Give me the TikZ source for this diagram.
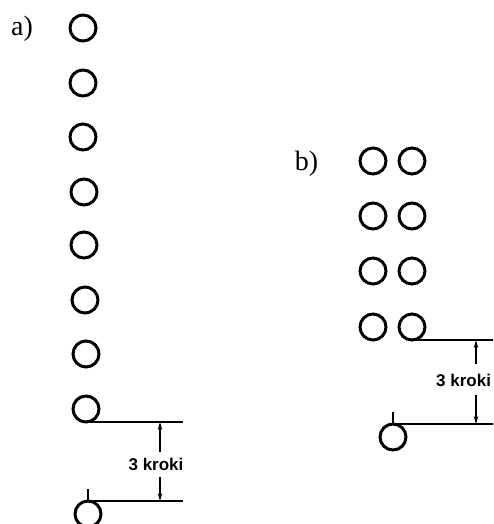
\documentclass[tikz,border=0pt]{standalone}
\usepackage{fontspec}
\setmainfont{Liberation Serif}
\newfontfamily\dimfont{Liberation Sans}
\usetikzlibrary{arrows.meta}
\begin{document}
\begin{tikzpicture}[x=1pt,y=-1pt,
  hole/.style={circle,draw,line width=3pt,minimum size=26pt,inner sep=0pt,outer sep=0pt},
  lbl/.style={font=\fontsize{28}{30}\selectfont,inner sep=0pt},
  dimtext/.style={font=\dimfont\bfseries\fontsize{17}{19}\selectfont,inner sep=0pt},
  refline/.style={line width=1.2pt},
  dimarrow/.style={line width=1.2pt,-{Stealth[length=8pt,width=4.5pt]}}]
\useasboundingbox (0,0) rectangle (493,524);
\clip (0,0) rectangle (493,524);
% ---- a) ----
\node[lbl] (la) at (22,29) {a)};
\foreach \i/\x/\y in {1/83/28, 2/83/83, 3/83/137, 4/84/192, 5/84/245, 6/85/300, 7/86/354, 8/86/409}
  \node[hole] (a\i) at (\x,\y) {};
\node[hole] (a9) at (88,514) {};
\coordinate (aE1) at (183,422);
\coordinate (aE2) at (183,501);
\coordinate (aTick) at (88,489);
\draw[refline] (a8.south) -- (aE1);
\draw[refline] (a9.north) -- (aE2);
\draw[refline] (a9.north) -- (aTick);
\node[dimtext] (ta) at (156,464) {3 kroki};
\coordinate (aU) at (160,452);
\coordinate (aL) at (160,477);
\draw[dimarrow] (aU) -- (aU |- aE1);
\draw[dimarrow] (aL) -- (aL |- aE2);
% ---- b) ----
\node[lbl] (lb) at (306.5,164) {b)};
\foreach \r/\y in {1/161, 2/216, 3/271, 4/327} {
  \node[hole] (bl\r) at (373,\y) {};
  \node[hole] (br\r) at (412,\y) {};
}
\node[hole] (b9) at (393,437) {};
\coordinate (bE1) at (500,340);
\coordinate (bE2) at (500,424);
\coordinate (bTick) at (393,412);
\draw[refline] (br4.south) -- (bE1);
\draw[refline] (b9.north) -- (bE2);
\draw[refline] (b9.north) -- (bTick);
\node[dimtext,anchor=west] (tb) at (436,380) {3 kroki};
\coordinate (bU) at (476,364);
\coordinate (bL) at (476,395);
\draw[dimarrow] (bU) -- (bU |- bE1);
\draw[dimarrow] (bL) -- (bL |- bE2);
\end{tikzpicture}
\end{document}
